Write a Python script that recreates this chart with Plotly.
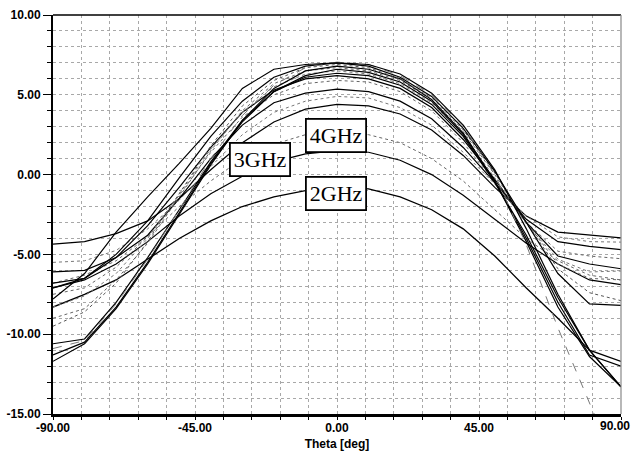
import plotly.graph_objects as go

theta = [-90, -80, -70, -60, -50, -40, -30, -20, -10, 0, 10, 20, 30, 40, 50, 60, 70, 80, 90]

g_2ghz = [-8.3, -7.5, -6.6, -5.3, -4.0, -2.9, -2.0, -1.4, -1.0, -0.8, -0.9, -1.4, -2.2, -3.4, -5.1, -7.1, -9.0, -11.0, -13.3]
g_3ghz = [-7.1, -6.6, -5.6, -4.2, -2.6, -1.2, -0.1, 0.8, 1.3, 1.5, 1.4, 0.9, 0.0, -1.3, -2.8, -4.3, -5.6, -6.6, -6.9]
g_4ghz = [-6.8, -6.3, -5.4, -3.9, -2.0, -0.4, 1.0, 1.9, 2.5, 2.7, 2.5, 2.0, 1.0, -0.4, -2.2, -4.0, -5.4, -6.3, -6.6]
g_c4 = [-4.35, -4.2, -3.7, -2.9, -1.5, 0.3, 2.0, 3.3, 4.1, 4.4, 4.3, 3.8, 2.8, 1.2, -0.8, -2.6, -3.6, -3.8, -3.96]
g_c5 = [-5.5, -5.4, -4.75, -3.4, -1.6, 0.5, 2.5, 3.9, 4.6, 4.9, 4.8, 4.2, 3.1, 1.4, -0.6, -2.6, -3.9, -4.2, -4.23]
g_c6 = [-6.1, -6.0, -5.2, -3.8, -1.5, 1.0, 3.1, 4.5, 5.1, 5.35, 5.2, 4.6, 3.5, 1.7, -0.5, -2.8, -4.2, -4.5, -4.7]
g_c7 = [-7.5, -7.1, -5.8, -3.9, -1.3, 1.4, 3.6, 5.0, 5.7, 5.9, 5.8, 5.2, 4.0, 2.0, -0.5, -3.0, -4.8, -5.1, -5.27]
g_c8 = [-6.8, -6.5, -5.2, -3.2, -0.8, 1.7, 3.9, 5.3, 6.0, 6.2, 6.0, 5.4, 4.2, 2.2, -0.3, -3.0, -5.1, -5.6, -5.9]
g_c9 = [-10.6, -10.3, -8.0, -5.2, -2.2, 0.8, 3.4, 5.2, 6.1, 6.35, 6.2, 5.6, 4.4, 2.4, -0.5, -3.8, -7.7, -11.0, -11.7]
g_c10 = [-8.3, -7.6, -6.2, -4.0, -1.2, 1.6, 3.9, 5.5, 6.3, 6.5, 6.3, 5.7, 4.5, 2.5, -0.2, -3.1, -5.3, -6.1, -6.04]
g_c11 = [-11.3, -10.5, -8.3, -5.5, -2.4, 0.7, 3.3, 5.2, 6.2, 6.6, 6.4, 5.8, 4.6, 2.5, -0.4, -4.0, -8.0, -11.3, -12.0]
g_c12 = [-9.0, -8.4, -6.6, -4.3, -1.4, 1.5, 4.0, 5.7, 6.5, 6.7, 6.5, 5.9, 4.7, 2.7, 0.0, -3.0, -5.6, -6.5, -6.6]
g_c13 = [-11.7, -10.6, -8.4, -5.6, -2.5, 0.6, 3.4, 5.4, 6.5, 6.8, 6.6, 6.0, 4.7, 2.6, -0.4, -4.2, -8.3, -11.4, -13.3]
g_c14 = [-9.5, -8.6, -6.8, -4.2, -1.2, 1.8, 4.3, 5.9, 6.7, 6.9, 6.7, 6.0, 4.8, 2.8, 0.1, -3.0, -5.9, -7.4, -7.9]
g_c15 = [-7.1, -6.5, -5.0, -2.9, -0.2, 2.4, 4.6, 6.1, 6.8, 7.0, 6.8, 6.1, 4.9, 2.9, 0.2, -3.0, -6.2, -8.1, -8.2]
g_c16 = [-10.9, -10.4, -8.1, -5.3, -2.2, 1.0, 3.7, 5.6, 6.7, 7.05, 6.9, 6.2, 5.0, 3.0, 0.0, -4.4, -9.6, -14.2, -19.0]
g_c17 = [-7.8, -6.2, -3.6, -1.4, 0.7, 2.9, 5.4, 6.6, 6.9, 7.0, 6.9, 6.3, 5.1, 3.1, 0.3, -3.4, -7.5, -11.0, -13.3]

series = [g_2ghz, g_3ghz, g_4ghz, g_c4, g_c5, g_c6, g_c7, g_c8, g_c9,
          g_c10, g_c11, g_c12, g_c13, g_c14, g_c15, g_c16, g_c17]
styles = [("black", 1.3, "solid"), ("black", 1.2, "solid"), ("#666", 1.0, "dot"),
          ("black", 1.2, "solid"), ("#777", 1.0, "dot"), ("black", 1.2, "solid"),
          ("#666", 1.0, "dot"), ("black", 1.2, "solid"), ("black", 1.2, "solid"),
          ("#777", 1.0, "dot"), ("black", 1.2, "solid"), ("#666", 1.0, "dot"),
          ("black", 1.2, "solid"), ("#555", 1.0, "dot"), ("black", 1.2, "solid"),
          ("#777", 1.0, "dash"), ("black", 1.2, "solid")]

labels = ["4GHz", "3GHz", "2GHz"]
label_x = [-0.3, -24.4, -0.3]
label_y = [2.48, 0.93, -1.19]

x_tickvals = [-90, -45, 0, 45]
x_ticktext = ["-90.00", "-45.00", "0.00", "45.00"]
x_last_label = "90.00"
y_tickvals = [-15, -10, -5, 0, 5, 10]
y_ticktext = ["-15.00", "-10.00", "-5.00", "0.00", "5.00", "10.00"]

fig = go.Figure()
for ys, (c, w, d) in zip(series, styles):
    fig.add_trace(go.Scatter(x=theta, y=ys, mode="lines",
                             line=dict(color=c, width=w, dash=d),
                             showlegend=False, hoverinfo="skip"))

for t, lx, ly in zip(labels, label_x, label_y):
    fig.add_annotation(x=lx, y=ly, text=t, showarrow=False,
                       font=dict(family="Liberation Serif", size=22, color="black"),
                       bgcolor="white", bordercolor="black", borderwidth=1.8, borderpad=3)

axis_font = dict(family="Liberation Sans", size=12, color="black", weight="bold")
# last x tick label placed right-aligned so it stays inside the page
fig.add_annotation(xref="paper", yref="paper", x=1, y=0, xanchor="right", yanchor="top",
                   xshift=11, yshift=-3, text=x_last_label, showarrow=False, font=axis_font)

grid_col = "#a8a8a8"
fig.update_xaxes(range=[-90, 90], tickvals=x_tickvals, ticktext=x_ticktext,
                 tickfont=axis_font, ticks="outside", ticklen=1, tickcolor="black",
                 automargin=False,
                 showline=True, linecolor="black", linewidth=2.5, mirror=False,
                 showgrid=True, gridcolor=grid_col, griddash="dot", gridwidth=1,
                 zeroline=False,
                 minor=dict(dtick=9, tick0=-90, showgrid=True, gridcolor=grid_col, griddash="dot",
                            gridwidth=1, ticks="outside", ticklen=3, tickcolor="black"),
                 title=dict(text="Theta [deg]", font=dict(family="Liberation Sans", size=12, color="black", weight="bold"), standoff=6))
fig.update_yaxes(range=[-15, 10], tickvals=y_tickvals, ticktext=y_ticktext,
                 tickfont=axis_font, ticks="outside", ticklen=8, tickcolor="black",
                 automargin=False,
                 showline=True, linecolor="black", linewidth=2, mirror=False,
                 showgrid=True, gridcolor=grid_col, griddash="dot", gridwidth=1,
                 zeroline=False,
                 minor=dict(dtick=1, tick0=-15, showgrid=True, gridcolor=grid_col, griddash="dot",
                            gridwidth=1, ticks="outside", ticklen=4, tickcolor="black"))

# frame top/right
fig.add_shape(type="line", xref="paper", yref="paper", x0=0, x1=1, y0=1, y1=1,
              line=dict(color="black", width=1.5))
fig.add_shape(type="line", xref="paper", yref="paper", x0=1, x1=1, y0=0, y1=1,
              line=dict(color="#888", width=1.2))

fig.update_layout(width=634, height=458, margin=dict(l=53, r=13, t=15, b=44),
                  plot_bgcolor="white", paper_bgcolor="white",
                  font=dict(family="Liberation Sans", size=12, color="black"))
fig.write_html("out.html")
